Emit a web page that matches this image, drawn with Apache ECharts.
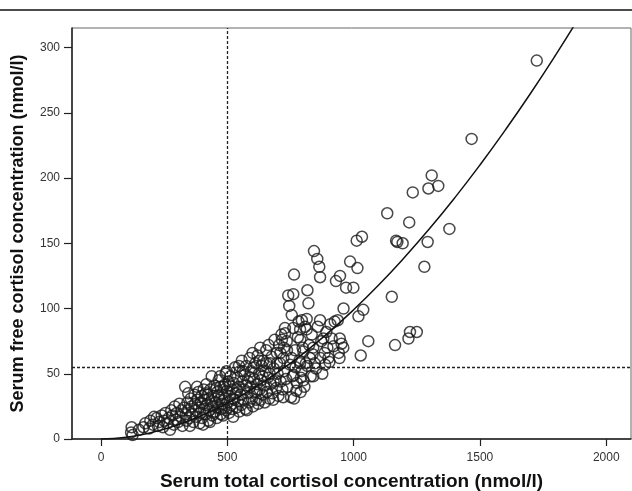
<!DOCTYPE html>
<html>
<head>
<meta charset="utf-8">
<script src="https://cdn.jsdelivr.net/npm/echarts@6/dist/echarts.min.js"></script>
<style>
html,body{margin:0;padding:0;background:#fff;}
#chart{width:632px;height:491px;}
</style>
</head>
<body>
<div id="chart"></div>
<script>
// Axis tick labels
const xTicks = [0, 500, 1000, 1500, 2000];
const yTicks = [0, 50, 100, 150, 200, 250, 300];

// Reference thresholds
const totalCutoff = 500;
const freeCutoff = 55;

// Scatter data: [total cortisol, free cortisol] (nmol/l)
const lowRange = [
  [119,5],[121,9],[125,3],[150,7],[168,9],[175,12],[190,8],[195,14],[205,11],[210,17],[220,16],[225,10],[230,13],
  [240,18],[245,9],[250,14],[255,20],[262,12],[268,16],[273,7],[278,22],[282,18],[288,11],[292,25],[296,15],[300,20],
  [305,13],[310,27],[315,17],[318,22],[322,10],
  [328,24],[333,40],[335,19],[338,14],[342,28],[346,22],[350,16],[352,10],[355,31],[358,25],[362,19],[366,13],
  [370,34],[372,27],[375,22],[378,17],[382,30],[385,36],[388,24],[390,12],[393,20],[396,28],[398,33],[400,16],
  [404,11],[406,38],[408,23],[411,30],[414,19],[417,42],[420,26],[422,34],[425,14],[428,22],[431,13],[433,38],
  [436,29],[438,48],[440,18],[443,25],[446,33],[449,41],[452,21],[455,28],[458,16],[460,36],[463,24],[466,45],
  [469,30],[471,48],[474,19],[477,34],[479,27],
  [345,35],[380,40],[402,27],[415,35],[427,31],[445,20],[457,39],[465,33],[472,40],[476,23]
];
const midRange = [
  [483,18],[485,40],[488,24],[490,31],[493,50],[495,22],[497,52],[499,37],[502,28],[504,44],[507,20],[510,33],
  [512,48],[515,26],[518,38],[520,23],[523,17],[525,43],[528,30],[531,55],[533,35],[536,24],[539,47],[541,29],
  [544,40],[547,21],[550,52],[552,34],[555,26],[557,60],[559,44],
  [563,30],[566,38],[569,49],[572,23],[575,56],[577,22],[580,35],[583,44],[586,28],[588,62],[591,40],[594,52],
  [597,31],[600,66],[602,25],[605,46],[608,36],[611,58],[614,30],[617,42],[620,64],[622,27],[625,50],[628,38],
  [630,70],[631,30],[633,45],[636,56],[639,34],[642,60],[645,41],[648,28],
  [651,52],[654,68],[657,36],[660,47],[663,72],[666,31],[669,58],[672,42],[675,63],[678,35],[681,30],[684,54],
  [687,76],[690,45],[693,39],[696,66],[699,50],[702,33],[705,72],[708,58],[711,44],[714,80],[716,76],[718,38],
  [721,32],[722,62],[725,52],[728,85],[729,81],[732,46],[735,75],[736,68],[738,40],[741,110],[745,102],[748,57],
  [492,42],[509,41],[521,31],[538,38],[546,56],[561,52],[574,41],[589,47],[604,55],[616,36],[627,60],[640,48],
  [656,58],[668,50],[683,44],[697,58],[710,66],[724,70]
];
const highRange = [
  [752,32],[755,95],[755,62],[758,48],[761,85],[761,111],[762,49],[764,126],[764,31],[768,68],[770,55],[773,37],
  [775,43],[779,78],[782,90],[785,60],[788,84],[789,76],[788,58],[790,36],[791,47],[794,52],[795,91],[798,70],
  [801,67],[801,45],[805,40],[808,86],[811,58],[814,92],[814,84],[816,56],[817,114],[821,104],[824,72],[827,62],
  [830,48],[834,80],[837,65],[840,70],[840,48],[843,144],[846,58],[851,54],[856,138],[858,86],[864,132],[867,124],
  [867,91],[868,62],[872,75],[876,50],[880,77],[885,66],[887,57],[892,82],[896,70],[900,62],[904,59],[908,88],
  [913,77],[920,71],[925,90],[930,121],[937,91],[941,66],[944,62],[945,77],[946,125],[952,73],[959,70],[960,100],
  [970,116],[986,136],[999,116],[1012,152],[1015,131],[1019,94],[1028,64],[1033,155],[1038,99],[1058,75],
  [1133,173],[1151,109],[1164,72],[1168,152],[1173,151],[1194,150],[1217,77],[1223,82],[1220,166],[1234,189],
  [1250,82],[1280,132],[1293,151],[1296,192],[1309,202],[1335,194],[1379,161],[1467,230],[1725,290]
];

// Fitted curve (every 100 nmol/l of total cortisol)
const fitX = [0,100,200,300,400,500,600,700,800,900,1000,1100,1200,1300,1400,1500,1600,1700,1800,1900];
const fitY = [0,1.4,5,10.6,18.1,27.4,38.4,51.2,65.5,81.5,99.1,118.2,138.9,161.1,184.8,210,236.7,264.8,294.4,325.4];

const font = "'Liberation Sans', Arial, sans-serif";
const chart = echarts.init(document.getElementById('chart'), null, {renderer: 'canvas'});
chart.setOption({
  animation: false,
  backgroundColor: '#fff',
  grid: {left: 72, right: 1, top: 28, bottom: 52, show: true, borderColor: '#666', borderWidth: 1,
    containLabel: false, outerBoundsMode: 'none'},
  xAxis: {
    type: 'value', min: -115, max: 2098,
    name: 'Serum total cortisol concentration (nmol/l)',
    nameLocation: 'middle', nameGap: 33, nameMoveOverlap: false,
    nameTextStyle: {fontFamily: font, fontWeight: 'bold', fontSize: 19, color: '#111'},
    axisLine: {onZero: false, lineStyle: {color: '#222', width: 1.5}},
    axisTick: {length: 7, lineStyle: {color: '#222', width: 1.2}, customValues: xTicks},
    axisLabel: {customValues: xTicks, fontFamily: font, fontSize: 12, color: '#333', margin: 13,
      formatter: v => String(v)},
    splitLine: {show: false}
  },
  yAxis: {
    type: 'value', min: 0, max: 315,
    name: 'Serum free cortisol concentration (nmol/l)',
    nameLocation: 'middle', nameGap: 45, nameMoveOverlap: false,
    nameTextStyle: {fontFamily: font, fontWeight: 'bold', fontSize: 18, color: '#111'},
    axisLine: {onZero: false, lineStyle: {color: '#222', width: 1.5}},
    axisTick: {length: 8, lineStyle: {color: '#222', width: 1.2}, customValues: yTicks},
    axisLabel: {customValues: yTicks, fontFamily: font, fontSize: 12, color: '#333', margin: 12,
      formatter: v => String(v)},
    splitLine: {show: false}
  },
  graphic: [{
    type: 'line', shape: {x1: 0, y1: 10, x2: 632, y2: 10},
    style: {stroke: '#111', lineWidth: 1.5}
  }],
  series: [
    {
      type: 'scatter',
      data: lowRange.concat(midRange, highRange),
      symbol: 'circle', symbolSize: 11,
      itemStyle: {color: 'rgba(255,255,255,0)', borderColor: '#1a1a1a', borderWidth: 1.5},
      markLine: {
        silent: true, symbol: 'none', label: {show: false},
        lineStyle: {type: [3, 2], color: '#222', width: 1.3},
        data: [{xAxis: totalCutoff}, {yAxis: freeCutoff}]
      }
    },
    {
      type: 'line', data: fitX.map((x, i) => [x, fitY[i]]), smooth: true, showSymbol: false, clip: true,
      lineStyle: {color: '#111', width: 1.5}, z: 5
    }
  ]
});
</script>
</body>
</html>
